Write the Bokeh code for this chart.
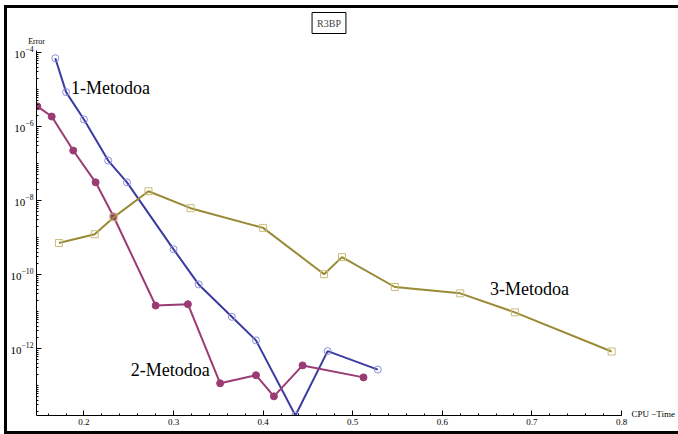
import numpy as np
from bokeh.plotting import figure
from bokeh.models import FixedTicker, Label, Range1d, LinearAxis, LogAxis, Title
from bokeh.layouts import column
from bokeh.embed import file_html
from bokeh.resources import INLINE

# 1-Metodoa
m1_time = [0.168, 0.180, 0.200, 0.227, 0.248, 0.300, 0.328, 0.365, 0.392, 0.436, 0.472, 0.528]
m1_err = [7.0e-5, 8.5e-6, 1.55e-6, 1.2e-7, 3.1e-8, 4.8e-10, 5.4e-11, 7.2e-12, 1.66e-12, 1.55e-14, 8.5e-13, 2.7e-13]
# 2-Metodoa
m2_time = [0.148, 0.164, 0.188, 0.213, 0.233, 0.280, 0.316, 0.352, 0.392, 0.412, 0.444, 0.512]
m2_err = [3.5e-6, 1.86e-6, 2.24e-7, 3.1e-8, 3.7e-9, 1.45e-11, 1.58e-11, 1.15e-13, 1.9e-13, 5.1e-14, 3.5e-13, 1.66e-13]
# 3-Metodoa
m3_time = [0.172, 0.212, 0.233, 0.272, 0.319, 0.400, 0.468, 0.488, 0.547, 0.620, 0.681, 0.789]
m3_err = [7.1e-10, 1.23e-9, 3.5e-9, 1.78e-8, 6.2e-9, 1.82e-9, 1.02e-10, 2.95e-10, 4.6e-11, 3.1e-11, 9.5e-12, 8.3e-13]

x_ticks = [0.2, 0.3, 0.4, 0.5, 0.6, 0.7, 0.8]
y_ticks = [1e-4, 1e-6, 1e-8, 1e-10, 1e-12]

series = [
    ("1-Metodoa", m1_time, m1_err, "#3b3ba2", "circle", "#8c8cd8", None),
    ("2-Metodoa", m2_time, m2_err, "#9b3b74", "circle", "#9b3b74", "#9b3b74"),
    ("3-Metodoa", m3_time, m3_err, "#9a8a36", "square", "#c9bb7c", None),
]

FONT = "Liberation Serif"
X0, X1 = 0.147, 0.8
Y0, Y1 = 10 ** -13.81, 10 ** -3.946

p = figure(width=671, height=423, output_backend="svg", toolbar_location=None,
           y_axis_type="log", title=None,
           x_range=Range1d(X0, X1), y_range=Range1d(Y0, Y1),
           min_border_left=29, min_border_right=55, min_border_top=42, min_border_bottom=16)
p.outline_line_color = None
p.xgrid.visible = False
p.ygrid.visible = False
p.background_fill_color = "white"
p.border_fill_color = "white"

for name, xs, ys, lc, mk, mc, fc in series:
    p.line(xs, ys, line_color=lc, line_width=2)
    p.scatter(xs, ys, marker=mk, size=7,
              line_color=mc, fill_color=fc, line_width=1)

minor_y = [k * 10.0 ** n for n in range(-15, -3) for k in range(1, 10)]
p.yaxis.ticker = FixedTicker(ticks=y_ticks, minor_ticks=minor_y)
p.xaxis.ticker = FixedTicker(ticks=x_ticks, minor_ticks=[round(0.14 + 0.02 * i, 2) for i in range(34)])

for ax in (p.xaxis[0], p.yaxis[0]):
    ax.major_tick_in = 5
    ax.major_tick_out = 0
    ax.minor_tick_in = 2
    ax.minor_tick_out = 0
    ax.axis_line_color = "black"
    ax.major_tick_line_color = "black"
    ax.minor_tick_line_color = "black"
    ax.major_label_text_font = FONT
    ax.major_label_text_color = "black"
    ax.major_label_standoff = 3
p.xaxis.major_label_text_font_size = "9px"
p.yaxis.major_label_text_font_size = "11px"


def label_axis(axis, text_size, standoff):
    axis.axis_line_color = None
    axis.major_tick_line_color = None
    axis.minor_tick_line_color = None
    axis.major_tick_in = 0
    axis.major_tick_out = 0
    axis.minor_tick_in = 0
    axis.minor_tick_out = 0
    axis.major_label_text_font = FONT
    axis.major_label_text_font_size = text_size
    axis.major_label_text_color = "black"
    axis.major_label_standoff = standoff
    return axis


# axis-name labels, placed like Mathematica's AxesLabel
err_tick = X0 + 0.0001
top_ax = label_axis(LinearAxis(ticker=FixedTicker(ticks=[err_tick]),
                               major_label_overrides={err_tick: "Error"}), "8px", 5)
p.add_layout(top_ax, "above")
cpu_tick = 10 ** -13.76
right_ax = label_axis(LogAxis(ticker=FixedTicker(ticks=[cpu_tick]),
                              major_label_overrides={cpu_tick: "CPU \u2212Time"}), "9px", 10)
p.add_layout(right_ax, "right")

title = Title(text="R3BP", align="center", text_font=FONT, text_font_size="10px",
              text_font_style="normal", border_line_color="black", border_line_width=1,
              background_fill_color="white", padding=5, standoff=0)
p.add_layout(title, "above")

labels = [
    ("1-Metodoa", 0.1856, 10 ** -4.946),
    ("2-Metodoa", 0.2522, 10 ** -12.59),
    ("3-Metodoa", 0.6533, 10 ** -10.38),
]
for t, x, y in labels:
    p.add_layout(Label(x=x, y=y, text=t, text_font=FONT, text_font_size="18px",
                       text_baseline="middle", text_align="left", text_color="black"))

layout = column(p, styles={"border-top": "3px solid black",
                           "border-left": "3px solid black",
                           "border-bottom": "3px solid black",
                           "margin-top": "5px", "margin-left": "4px"})

open("out.html", "w").write(file_html(layout, INLINE))
